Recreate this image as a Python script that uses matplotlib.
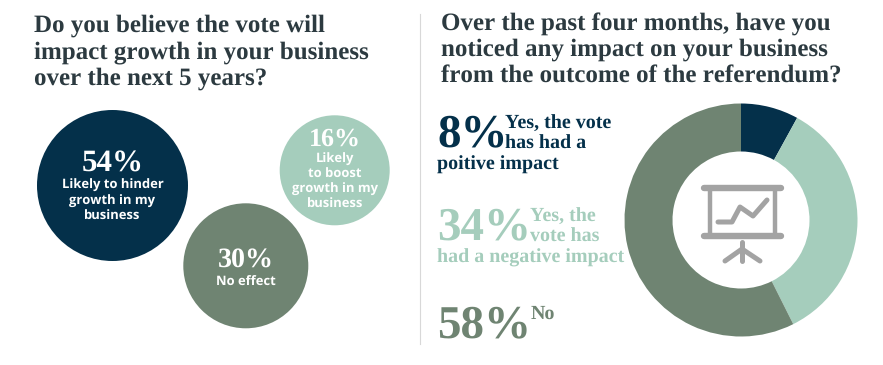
import matplotlib
matplotlib.use("Agg")
import matplotlib.pyplot as plt
from matplotlib.patches import Circle

W, H = 883, 365

left_title = ["Do you believe the vote will", "impact growth in your business", "over the next 5 years?"]
right_title = ["Over the past four months, have you", "noticed any impact on your business", "from the outcome of the referendum?"]

bubble_values = [54, 30, 16]
bubble_labels = ["Likely to hinder\ngrowth in my\nbusiness", "No effect", "Likely\nto boost\ngrowth in my\nbusiness"]

donut_labels = [8, 34, 58]
# the arcs as drawn in the picture run slightly off the printed numbers
donut_arcs = [8, 34.6, 57.4]

navy = "#04304a"
mint = "#a5cdbc"
sage = "#6f8472"
icon_grey = "#a3a3a3"

serif = "Liberation Serif"
sans = "Open Sans"

plt.rcParams["text.hinting"] = "no_hinting"
plt.rcParams["text.hinting_factor"] = 1

fig = plt.figure(figsize=(W / 100, H / 100), dpi=100, facecolor="white")
ax = fig.add_axes([0, 0, 1, 1])
ax.set_xlim(0, W)
ax.set_ylim(H, 0)
ax.axis("off")

# titles
for y, s in zip([26, 52.5, 79], left_title):
    ax.text(34, y, s, fontsize=17.9, family=serif, weight="bold", color="#2c3a40", va="center", ha="left")
for y, s in zip([24.5, 50, 76], right_title):
    ax.text(441, y, s, fontsize=17.65, family=serif, weight="bold", color="#2c3a40", va="center", ha="left")

ax.plot([419.5, 419.5], [14, 344], color="#d8d8d8", lw=0.8)

# bubbles
cx = [112.5, 245.8, 334.7]
cy = [185.5, 265.8, 170.3]
rad = [75.5, 62.5, 55]
cols = [navy, sage, mint]
pct_y = [164, 261, 139]
lab_y = [201, 283, 182]
pct_size = [22.5, 20, 18.5]
for i, v in enumerate(bubble_values):
    ax.add_patch(Circle((cx[i], cy[i]), rad[i], color=cols[i], lw=0))
    ax.text(cx[i], pct_y[i], f"{v}%", fontsize=pct_size[i], family=serif, weight="bold",
            color="white", ha="center", va="center")
    ax.text(cx[i], lab_y[i], bubble_labels[i], fontsize=9, family=sans, weight="bold",
            color="white", ha="center", va="center", linespacing=1.22)

# legend text next to the donut
big = 34
small = 14.2
ax.text(437, 135, f"{donut_labels[0]}%", fontsize=big, family=serif, weight="bold", color=navy, va="center")
ax.text(505, 123, "Yes, the vote", fontsize=small, family=serif, weight="bold", color=navy, va="center")
ax.text(505, 144, "has had a", fontsize=small, family=serif, weight="bold", color=navy, va="center")
ax.text(437, 165, "poitive impact", fontsize=small, family=serif, weight="bold", color=navy, va="center")

ax.text(437, 228, f"{donut_labels[1]}%", fontsize=big, family=serif, weight="bold", color=mint, va="center")
ax.text(530, 216, "Yes, the", fontsize=small, family=serif, weight="bold", color=mint, va="center")
ax.text(530, 237, "vote has", fontsize=small, family=serif, weight="bold", color=mint, va="center")
ax.text(437, 258, "had a negative impact", fontsize=small, family=serif, weight="bold", color=mint, va="center")

ax.text(437, 326, f"{donut_labels[2]}%", fontsize=big, family=serif, weight="bold", color=sage, va="center")
ax.text(531, 314, "No", fontsize=small, family=serif, weight="bold", color=sage, va="center")

# donut
dx, dy, dr = 741, 220, 116.5
ax2 = fig.add_axes([(dx - dr) / W, 1 - (dy + dr) / H, 2 * dr / W, 2 * dr / H])
ax2.pie(donut_arcs, colors=[navy, mint, sage], startangle=90, counterclock=False, radius=1,
        wedgeprops=dict(width=48 / dr, lw=0))
ax2.set_xlim(-1, 1)
ax2.set_ylim(-1, 1)

# presentation icon in the hole
lw = 3.6
ax.set_zorder(2)
ax.patch.set_visible(False)
def stroke(xs, ys, w=lw):
    ax.plot(xs, ys, color=icon_grey, lw=w, solid_capstyle="round", solid_joinstyle="round")
stroke([704, 781], [188, 188], 4.6)
stroke([704, 781], [235.5, 235.5], 4.6)
stroke([710, 710], [188, 235], 3.2)
stroke([775, 775], [188, 235], 3.2)
stroke([718, 732, 740, 753, 767], [222, 222, 207, 216, 200])
stroke([742, 742], [242, 261])
stroke([725, 742, 760], [261, 249, 261])

fig.savefig("out.png", dpi=100)
